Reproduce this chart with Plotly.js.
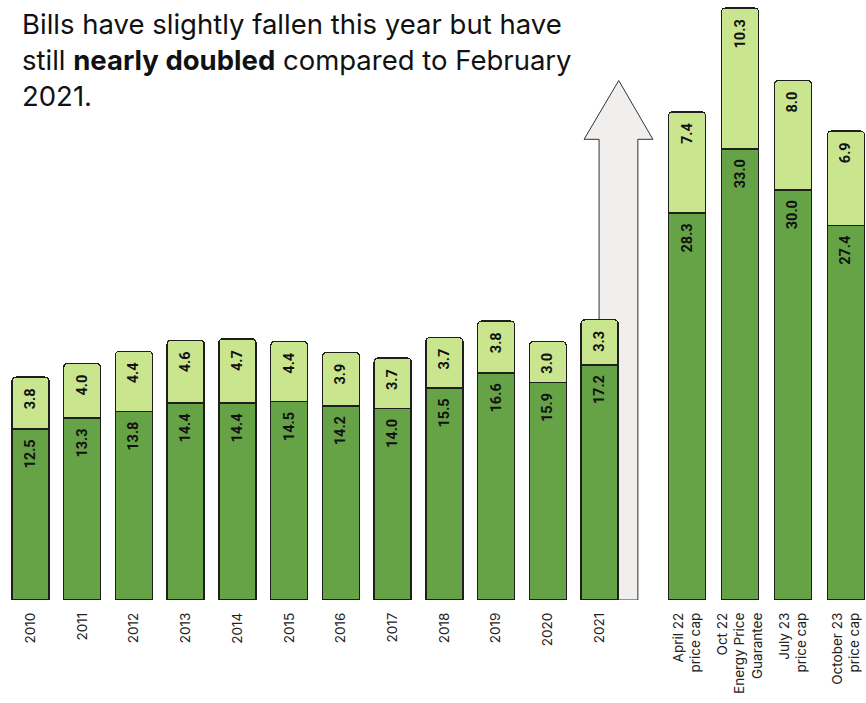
<!DOCTYPE html>
<html>
<head>
<meta charset="utf-8">
<script src="https://cdn.plot.ly/plotly-3.0.1.min.js"></script>
<style>html,body{margin:0;padding:0;background:#fff;}#chart{width:866px;height:703px;}</style>
</head>
<body>
<div id="chart"></div>
<script>
// ---- data ----
const years = ['2010','2011','2012','2013','2014','2015','2016','2017','2018','2019','2020','2021'];
const yearDark = [12.5, 13.3, 13.8, 14.4, 14.4, 14.5, 14.2, 14.0, 15.5, 16.6, 15.9, 17.2];
const yearLight = [3.8, 4.0, 4.4, 4.6, 4.7, 4.4, 3.9, 3.7, 3.7, 3.8, 3.0, 3.3];
const capLabels = ['April 22<br>price cap', 'Oct 22<br>Energy Price<br>Guarantee', 'July 23<br>price cap', 'October 23<br>price cap'];
const capDark = [28.3, 33.0, 30.0, 27.4];
const capLight = [7.4, 10.3, 8.0, 6.9];
const titleText = 'Bills have slightly fallen this year but have<br>still <b>nearly doubled</b> compared to February<br>2021.';

// ---- style ----
const DARK = '#66a347';
const LIGHT = '#c9e68f';
const EDGE = '#1e1e1e';
const barFont = {family: 'Roboto, Arial, sans-serif', size: 14.5, color: '#111', weight: 700};

function barTrace(x, y, color, xa, w) {
  return {
    type: 'bar', x: x, y: y, xaxis: xa, yaxis: 'y', width: w,
    marker: {color: color, line: {color: EDGE, width: 1.4}},
    text: y.map(v => v.toFixed(1) + '\u00a0\u00a0'),
    textposition: 'inside', insidetextanchor: 'end', textangle: -90,
    textfont: barFont, insidetextfont: barFont,
    constraintext: 'none', cliponaxis: false,
    hoverinfo: 'skip', showlegend: false
  };
}

const traces = [
  barTrace(years, yearDark, DARK, 'x', 0.715),
  barTrace(years, yearLight, LIGHT, 'x', 0.715),
  barTrace(capLabels, capDark, DARK, 'x2', 0.70),
  barTrace(capLabels, capLight, LIGHT, 'x2', 0.70)
];

const W = 866, H = 703;
const tickFont = {family: 'Inter, "Open Sans", sans-serif', size: 13.5, color: '#222'};

const layout = {
  width: W, height: H,
  margin: {l: 0, r: 0, t: 0, b: 103, pad: 0},
  paper_bgcolor: '#ffffff', plot_bgcolor: '#ffffff',
  barmode: 'stack', barcornerradius: 4,
  showlegend: false,
  xaxis: {
    domain: [4.6 / W, 656.5 / W], range: [-0.5, 12.1], type: 'category',
    tickangle: -90, ticks: '', showgrid: false, zeroline: false, showline: false,
    ticklabelstandoff: 9,
    tickfont: tickFont, automargin: false, fixedrange: true
  },
  xaxis2: {
    domain: [665.8 / W, 865.6 / W], range: [-0.4, 3.37], type: 'category', anchor: 'y',
    tickangle: -90, ticks: '', showgrid: false, zeroline: false, showline: false,
    ticklabelstandoff: 9,
    tickfont: tickFont, automargin: false, fixedrange: true
  },
  yaxis: {
    range: [0, 43.89], visible: false, showgrid: false, zeroline: false, fixedrange: true
  },
  shapes: [{
    type: 'path', xref: 'x', yref: 'y', layer: 'below',
    path: 'M 10.99,0 L 10.99,33.7 L 10.70,33.7 L 11.37,38.0 L 12.03,33.7 L 11.74,33.7 L 11.74,0 Z',
    fillcolor: '#f0efee', line: {color: '#333333', width: 1}
  }],
  annotations: [{
    xref: 'paper', yref: 'paper', x: 20 / W, y: 1, xanchor: 'left', yanchor: 'top',
    yshift: -5, align: 'left', showarrow: false, text: titleText,
    font: {family: 'Inter, "Open Sans", sans-serif', size: 27.5, color: '#111'}
  }]
};

Plotly.newPlot('chart', traces, layout, {displayModeBar: false, staticPlot: true});
</script>
</body>
</html>
